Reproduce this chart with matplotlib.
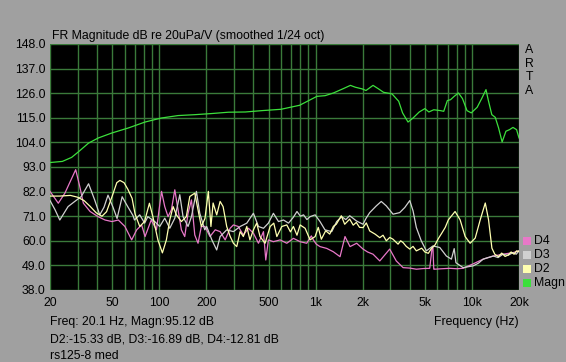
import matplotlib
matplotlib.use("Agg")
import matplotlib.pyplot as plt
from matplotlib.patches import Rectangle

# ---------------- data ----------------
magn_f = [20, 24, 27.5, 30.3, 35.3, 40.8, 49.7, 63.7, 81, 103, 132, 169, 216, 277, 355, 452,
          600, 790, 1020, 1150, 1300, 1510, 1670, 1790, 1990, 2100, 2330, 2530, 2720, 3080,
          3400, 3600, 3900, 4200, 4600, 5000, 5300, 5700, 6300, 6600, 6960, 7300, 7700, 8200,
          8700, 9300, 9900, 10800, 11600, 12300, 12700, 13400, 14100, 14800, 15600, 16500,
          17400, 18300, 19300, 20000]
magn_db = [95.0, 95.5, 97.3, 99.7, 103.7, 106.0, 108.2, 110.5, 113.1, 114.9, 116.0, 116.4,
           116.9, 117.5, 117.6, 118.2, 118.8, 120.6, 124.6, 124.9, 126.1, 128.1, 129.5, 128.7,
           127.9, 127.2, 129.5, 127.9, 126.4, 125.7, 122.4, 117.2, 113.1, 114.9, 117.6, 119.1,
           117.6, 118.6, 118.2, 117.9, 122.7, 123.1, 124.6, 126.1, 123.6, 118.2, 117.2, 119.7,
           123.9, 127.6, 123.1, 116.4, 115.2, 110.5, 104.2, 109.0, 109.7, 110.7, 109.7, 106.0]

d2_f = [20, 23, 27, 30, 33, 36, 39.5, 43, 46, 50, 53.5, 56, 59.5, 63, 67, 70, 75, 80.5, 86.5,
        91, 98, 104.7, 111, 116.7, 122.6, 128.7, 138.5, 149, 156.7, 168.7, 177, 185.8, 196,
        206, 214, 221, 233, 245, 256, 270, 284, 298, 313, 329, 345, 363, 380, 400, 420, 441,
        475, 512, 540, 565, 608, 654, 690, 721, 760, 796, 857, 922, 993, 1040, 1088, 1160,
        1231, 1300, 1356, 1460, 1535, 1652, 1740, 1821, 1910, 2011, 2110, 2219, 2400, 2573,
        2700, 2833, 2980, 3128, 3368, 3500, 3627, 3800, 4003, 4200, 4410, 4770, 5000, 5260,
        5500, 5810, 6100, 6410, 6750, 7070, 7800, 8400, 9050, 9740, 10490, 11300, 12170,
        12770, 13420, 14000, 14780, 15500, 16300, 17100, 17800, 18600, 19300, 20000]
d2_db = [80.0, 80.0, 80.3, 79.5, 78.0, 75.5, 72.5, 71.0, 73.0, 80.0, 86.0, 87.0, 86.0, 83.0,
         79.0, 72.0, 66.4, 68.6, 76.8, 70.8, 60.4, 54.6, 60.4, 69.3, 75.3, 71.6, 68.6, 70.8,
         79.8, 81.3, 73.8, 66.4, 70.0, 82.1, 66.4, 76.9, 71.6, 77.6, 75.3, 66.4, 62.0, 58.9,
         57.4, 64.1, 61.9, 66.4, 60.4, 64.9, 67.9, 61.9, 58.9, 66.4, 67.9, 61.9, 66.4, 67.1,
         64.0, 66.4, 62.5, 67.1, 65.6, 60.4, 61.9, 66.0, 60.7, 64.5, 63.0, 66.5, 67.4, 71.2,
         67.4, 69.7, 67.0, 68.2, 66.0, 65.9, 68.0, 64.4, 63.0, 61.4, 62.5, 60.0, 61.5, 60.7,
         58.5, 60.0, 59.2, 57.5, 56.3, 57.5, 55.5, 56.7, 55.0, 54.4, 56.5, 58.2, 61.0, 63.4,
         66.0, 69.4, 73.1, 69.4, 61.9, 58.9, 61.2, 69.4, 76.9, 69.4, 56.7, 54.0, 52.9, 54.5,
         53.0, 53.7, 55.0, 54.0, 55.5, 55.2]

d3_f = [20, 21.5, 23.1, 26.1, 28.8, 31.7, 35.3, 38.6, 41.6, 44.3, 47, 50.6, 53.7, 57.9, 62,
        68, 69.4, 75, 80.6, 84.5, 93.5, 100.7, 108.4, 116.7, 125.7, 135.3, 141.9, 152.8,
        160.6, 172.8, 181.6, 195.4, 201, 217, 233, 245, 270, 298, 329, 363, 400, 431, 464,
        499, 537, 579, 623, 671, 720, 760, 800, 837, 880, 922, 993, 1067, 1148, 1268, 1364,
        1469, 1560, 1652, 1740, 1821, 2011, 2100, 2219, 2444, 2630, 2833, 3128, 3450, 3720,
        4003, 4200, 4410, 4740, 5110, 5630, 6230, 6860, 7390, 7700, 7900, 8780, 10190, 11000,
        11800, 12700, 13700, 14700, 15800, 17000, 18300, 19200, 20000]
d3_db = [78.0, 74.0, 69.3, 75.3, 77.6, 79.8, 85.5, 78.3, 71.6, 75.0, 80.4, 75.0, 70.0, 79.7,
         76.0, 71.2, 69.3, 71.6, 67.9, 70.8, 68.6, 66.4, 70.1, 65.6, 70.1, 80.6, 70.8, 66.4,
         70.8, 82.1, 72.3, 64.9, 66.4, 60.4, 55.9, 61.9, 64.9, 64.1, 66.4, 67.9, 72.3, 66.4,
         65.6, 67.9, 72.3, 68.6, 69.3, 67.9, 70.5, 73.1, 71.0, 71.6, 69.5, 70.8, 71.6, 68.6,
         64.9, 64.1, 68.6, 70.8, 69.5, 71.2, 70.0, 68.9, 67.4, 70.0, 72.6, 75.6, 77.6, 75.6,
         71.9, 72.6, 74.9, 78.0, 73.4, 65.9, 60.0, 55.5, 57.7, 57.0, 53.2, 51.8, 56.5, 50.2,
         48.0, 48.8, 50.0, 51.8, 52.5, 53.2, 52.5, 54.0, 53.5, 54.7, 54.0, 55.5]

d4_f = [20, 22.6, 24.9, 29.2, 31, 32.7, 36.1, 40.6, 45, 49.8, 54.7, 60.3, 66.6, 71.7, 77.1,
        81.1, 88.8, 95.9, 103.4, 108.4, 113.8, 119.5, 125.7, 131.9, 138.5, 145.5, 152.8,
        160.6, 168.7, 177, 185.8, 196, 211, 228, 245, 264, 284, 298, 320, 345, 372, 400, 431,
        464, 480, 499, 537, 593, 654, 721, 796, 877, 939, 967, 1010, 1067, 1178, 1298, 1433,
        1542, 1660, 1831, 2011, 2150, 2331, 2573, 2979, 3280, 3627, 4000, 4410, 4900, 5370,
        5560, 5630, 5700, 5770, 6400, 7210, 8000, 8780, 10190, 11800, 13700, 15800, 18300,
        20000]
d4_db = [82.1, 76.8, 81.3, 91.8, 84.3, 76.8, 73.1, 70.8, 69.3, 68.6, 69.3, 66.4, 60.4, 64.9,
         67.1, 61.9, 69.3, 64.9, 82.1, 75.3, 70.8, 73.8, 82.8, 73.8, 64.9, 61.9, 72.3, 78.3,
         62.6, 58.9, 66.4, 66.4, 61.9, 64.9, 64.1, 60.4, 65.6, 67.1, 66.4, 62.6, 65.6, 63.4,
         58.9, 64.1, 51.4, 60.4, 59.6, 60.4, 58.9, 61.1, 59.6, 58.9, 62.2, 60.4, 58.5, 57.4,
         56.6, 55.1, 52.9, 61.9, 57.4, 58.9, 56.3, 55.0, 54.0, 51.0, 56.3, 51.0, 48.0, 47.8,
         47.3, 47.6, 47.7, 57.0, 57.0, 47.3, 47.3, 47.5, 47.7, 47.5, 47.7, 49.7, 51.8, 53.2,
         54.0, 54.7, 55.5]

y_ticks = [38, 49, 60, 71, 82, 93, 104, 115, 126, 137, 148]
x_label_ticks = [20, 50, 100, 200, 500, 1000, 2000, 5000, 10000, 20000]
x_tick_labels = ["20", "50", "100", "200", "500", "1k", "2k", "5k", "10k", "20k"]
legend_names = ["D4", "D3", "D2", "Magn"]

# ---------------- style ----------------
W, H = 566, 362
BG = "#a0a0a0"
GRID = "#3a7a3a"
C_MAGN = "#3ce03c"
C_D2 = "#ffffb0"
C_D3 = "#d0d0d0"
C_D4 = "#e878c8"
FONT = "Liberation Sans"
FS = 8.8

plt.rcParams["font.family"] = [FONT, "DejaVu Sans"]

fig = plt.figure(figsize=(W / 100, H / 100), dpi=100, facecolor=BG)
L, R, T, B = 50, 519, 44, 290
ax = fig.add_axes([L / W, 1 - B / H, (R - L) / W, (B - T) / H])
ax.set_facecolor("black")
ax.set_xscale("log")
ax.set_xlim(20, 20000)
ax.set_ylim(38, 148)

# grid
grid_x = []
for dec in [10, 100, 1000, 10000]:
    for m in range(1, 10):
        v = dec * m
        if 20 <= v <= 20000:
            grid_x.append(v)
for v in grid_x:
    ax.axvline(v, color=GRID, lw=1.0, zorder=1)
for v in y_ticks:
    ax.axhline(v, color=GRID, lw=1.0, zorder=1)

ax.set_xticks(x_label_ticks)
ax.set_xticklabels(x_tick_labels)
ax.set_xticks([], minor=True)
ax.set_yticks(y_ticks)
ax.set_yticklabels(["%.1f" % v for v in y_ticks])
ax.tick_params(axis="both", length=0, labelsize=FS, colors="black", pad=3)
ax.tick_params(axis="x", pad=5)
for s in ax.spines.values():
    s.set_visible(False)

lw = 0.9
ax.plot(d4_f, d4_db, color=C_D4, lw=lw, zorder=3)
ax.plot(d3_f, d3_db, color=C_D3, lw=lw, zorder=4)
ax.plot(d2_f, d2_db, color=C_D2, lw=lw, zorder=5)
ax.plot(magn_f, magn_db, color=C_MAGN, lw=lw, zorder=6)

def ft(x, y, s, **kw):
    fig.text(x / W, 1 - y / H, s, fontsize=FS, color="black", va="center", **kw)

ft(52, 36, "FR Magnitude dB re 20uPa/V (smoothed 1/24 oct)", ha="left")
for i, ch in enumerate("ARTA"):
    ft(529, 50 + i * 13.7, ch, ha="center")
ft(519, 322, "Frequency (Hz)", ha="right")
ft(50, 322, "Freq: 20.1 Hz, Magn:95.12 dB", ha="left")
ft(50, 339, "D2:-15.33 dB, D3:-16.89 dB, D4:-12.81 dB", ha="left")
ft(50, 356, "rs125-8 med", ha="left")

leg_cols = [C_D4, C_D3, C_D2, C_MAGN]
for i, (name, c) in enumerate(zip(legend_names, leg_cols)):
    yc = 241 + i * 14
    fig.patches.append(Rectangle(((523) / W, 1 - (yc + 4) / H), 8 / W, 8 / H,
                                 transform=fig.transFigure, facecolor=c, edgecolor="none"))
    ft(534, yc, name, ha="left")

fig.savefig("out.png", dpi=100, facecolor=BG)
